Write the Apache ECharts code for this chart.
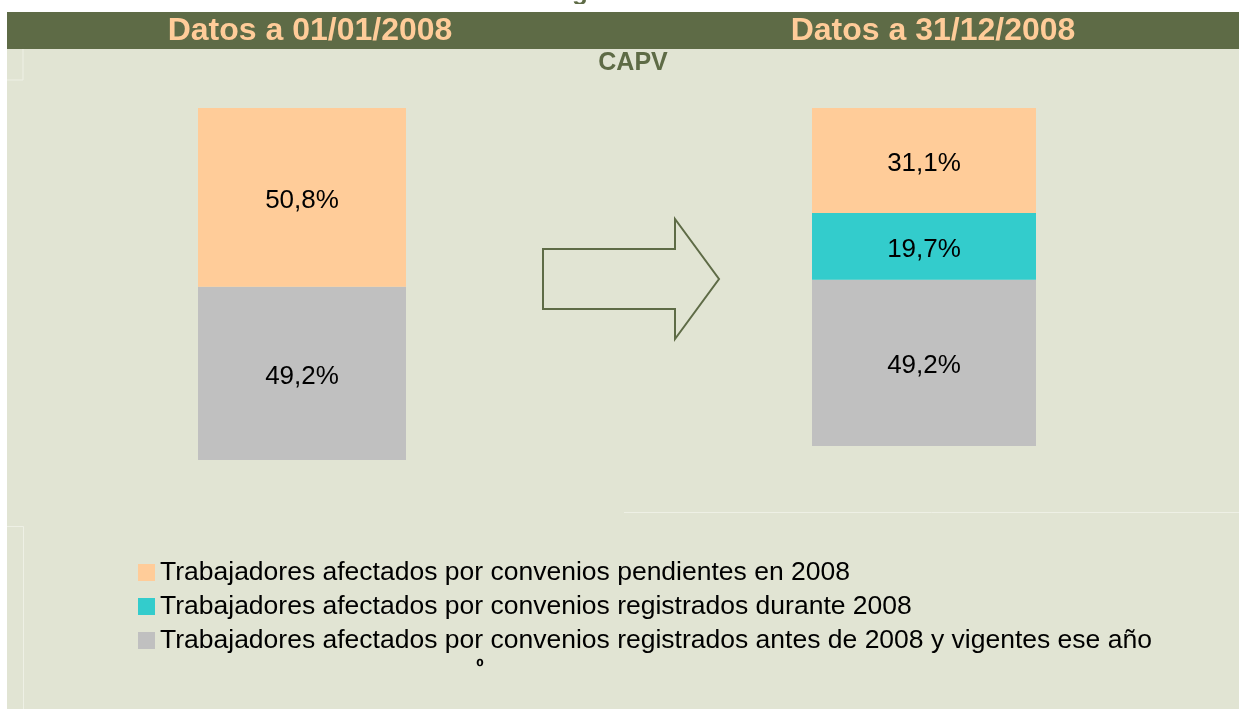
<!DOCTYPE html>
<html>
<head>
<meta charset="utf-8">
<script src="https://cdn.jsdelivr.net/npm/echarts@6/dist/echarts.min.js"></script>
<style>
html,body{margin:0;padding:0;background:#fff;}
#chart{width:1239px;height:709px;}
</style>
</head>
<body>
<div id="chart"></div>
<script>
// cabeceras de cada columna
var periodos = ['Datos a 01/01/2008', 'Datos a 31/12/2008'];
var ambito = 'CAPV';
// nombres de las series (leyenda)
var nomPendientes = 'Trabajadores afectados por convenios pendientes en 2008';
var nomDurante = 'Trabajadores afectados por convenios registrados durante 2008';
var nomAntes = 'Trabajadores afectados por convenios registrados antes de 2008 y vigentes ese año';
// porcentajes a 01/01/2008
var inicioPendientes = [50.8];
var inicioAntes = [49.2];
// porcentajes a 31/12/2008
var finPendientes = [31.1];
var finDurante = [19.7];
var finAntes = [49.2];

var fuente = 'Arial, "Liberation Sans", sans-serif';
var verde = '#5e6b46';
var fondo = '#e1e4d3';

//etiqueta con coma decimal
function etiqueta(p){
	return p.value.toFixed(1).replace('.', ',') + '%';
}
var estiloEtiqueta = {
	show: true,
	position: 'inside',
	offset: [0, 3],
	formatter: etiqueta,
	color: '#000',
	fontSize: 26,
	fontFamily: fuente
};

function serie(nombre, color, datos, idx, pila){
	return {
		name: nombre,
		type: 'bar',
		stack: pila,
		xAxisIndex: idx,
		yAxisIndex: idx,
		barWidth: '100%',
		itemStyle: {color: color},
		label: estiloEtiqueta,
		emphasis: {disabled: true},
		data: datos
	};
}

var option = {
	backgroundColor: '#fff',
	animation: false,
	grid: [
		{left: 198, top: 108, width: 208, height: 352},
		{left: 812, top: 108, width: 224, height: 338}
	],
	xAxis: [
		{type: 'category', gridIndex: 0, data: [periodos[0]], show: false},
		{type: 'category', gridIndex: 1, data: [periodos[1]], show: false}
	],
	yAxis: [
		{type: 'value', gridIndex: 0, min: 0, max: 100, show: false},
		{type: 'value', gridIndex: 1, min: 0, max: 100, show: false}
	],
	legend: {
		data: [nomPendientes, nomDurante, nomAntes],
		orient: 'vertical',
		left: 133,
		top: 554,
		icon: 'rect',
		itemWidth: 17,
		itemHeight: 17,
		itemGap: 7,
		selectedMode: false,
		textStyle: {color: '#000', fontSize: 26.5, fontFamily: fuente}
	},
	graphic: [
		//fondo
		{type: 'rect', shape: {x: 7, y: 12, width: 1232, height: 697}, style: {fill: fondo}, silent: true},
		//barra de cabecera
		{type: 'rect', shape: {x: 7, y: 12, width: 1232, height: 37}, style: {fill: verde}, silent: true},
		//lineas de celdas
		{type: 'polyline', shape: {points: [[7, 80], [23, 80], [23, 49]]}, style: {stroke: '#eef0e5', lineWidth: 1, fill: null}, silent: true},
		{type: 'polyline', shape: {points: [[7, 526.5], [23.5, 526.5], [23.5, 709]]}, style: {stroke: '#eef0e5', lineWidth: 1, fill: null}, silent: true},
		{type: 'line', shape: {x1: 624, y1: 512.5, x2: 1239, y2: 512.5}, style: {stroke: '#eef0e5', lineWidth: 1}, silent: true},
		//titulo cortado arriba
		{type: 'text', style: {text: 'g', x: 580, y: 6, textAlign: 'center', textVerticalAlign: 'bottom', fill: verde, font: 'bold 26px ' + fuente}, silent: true},
		{type: 'rect', shape: {x: 0, y: 4, width: 1239, height: 8}, style: {fill: '#fff'}, silent: true},
		{type: 'text', style: {text: periodos[0], x: 310, y: 31, textAlign: 'center', textVerticalAlign: 'middle', fill: '#ffcc99', font: 'bold 32px ' + fuente}, silent: true},
		{type: 'text', style: {text: periodos[1], x: 933, y: 31, textAlign: 'center', textVerticalAlign: 'middle', fill: '#ffcc99', font: 'bold 32px ' + fuente}, silent: true},
		{type: 'text', style: {text: ambito, x: 633, y: 63, textAlign: 'center', textVerticalAlign: 'middle', fill: verde, font: 'bold 25px ' + fuente}, silent: true},
		//flecha
		{type: 'polygon', shape: {points: [[543, 249], [675, 249], [675, 219], [719, 279], [675, 339], [675, 309], [543, 309]]},
			style: {fill: null, stroke: verde, lineWidth: 2}, silent: true},
		{type: 'text', style: {text: 'º', x: 480, y: 668, textAlign: 'center', textVerticalAlign: 'middle', fill: '#000', font: 'bold 20px ' + fuente}, silent: true}
	],
	series: [
		serie(nomAntes, '#c0c0c0', inicioAntes, 0, 'ini'),
		serie(nomPendientes, '#ffcc99', inicioPendientes, 0, 'ini'),
		serie(nomAntes, '#c0c0c0', finAntes, 1, 'fin'),
		serie(nomDurante, '#33cccc', finDurante, 1, 'fin'),
		serie(nomPendientes, '#ffcc99', finPendientes, 1, 'fin')
	]
};

var myChart = echarts.init(document.getElementById('chart'));
myChart.setOption(option);
</script>
</body>
</html>
